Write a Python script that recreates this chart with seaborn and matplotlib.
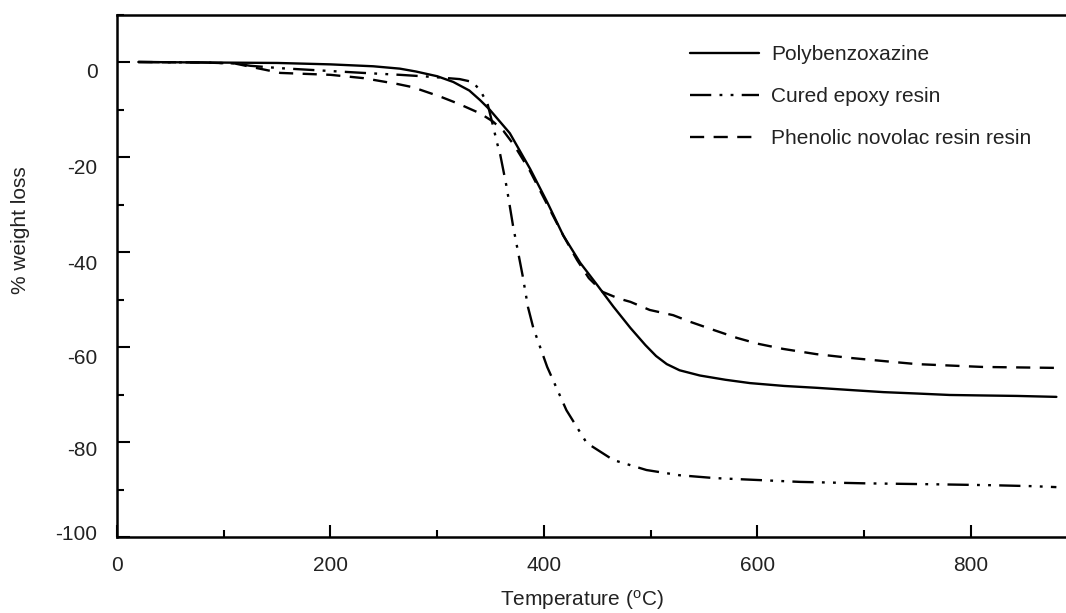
import numpy as np
import pandas as pd
import matplotlib
matplotlib.use("Agg")
import matplotlib.pyplot as plt
import matplotlib.transforms as mtransforms
from matplotlib.ticker import MultipleLocator
import seaborn as sns

# ---- data ----
pbz_T = [20, 80, 150, 200, 240, 265, 280, 300, 315, 330, 340, 349, 368, 387, 403, 418, 434,
         450, 465, 481, 495, 505, 515, 527, 546, 570, 593, 625, 656, 690, 718, 750, 780, 810,
         843, 880]
pbz_w = [0, -0.1, -0.2, -0.5, -0.9, -1.4, -2.0, -3.0, -4.2, -6, -8, -10, -15, -22.5, -29.5,
         -36.5, -42.3, -47, -51.5, -56, -59.6, -61.9, -63.6, -64.9, -66, -66.9, -67.6, -68.2,
         -68.6, -69.1, -69.5, -69.8, -70.1, -70.2, -70.3, -70.5]

epx_T = [20, 80, 110, 125, 153, 200, 231, 265, 293, 321, 333, 340, 347, 352, 356, 359, 365,
         371, 380, 385, 390, 403, 421, 440, 465, 496, 527, 560, 600, 640, 700, 765, 820, 858, 880]
epx_w = [0, -0.1, -0.3, -0.8, -1.3, -1.9, -2.3, -2.7, -3.1, -3.6, -4.2, -5.9, -8.7, -13.2,
         -17, -19.5, -26.3, -34.5, -45, -51.6, -56, -64.2, -73.3, -80.2, -83.8, -85.9, -87,
         -87.6, -88, -88.4, -88.7, -88.9, -89.1, -89.3, -89.5]

phn_T = [20, 80, 110, 125, 153, 200, 231, 262, 277, 303, 320, 340, 352, 362, 372, 387, 403,
         418, 431, 442, 455, 470, 481, 499, 521, 537, 560, 581, 600, 624, 655, 687, 720, 749,
         780, 811, 845, 880]
phn_w = [0, -0.1, -0.3, -1.0, -2.3, -2.7, -3.4, -4.6, -5.3, -7.3, -8.8, -10.8, -12.5, -14.5,
         -17.5, -23, -30, -36.5, -41.7, -45.5, -48.4, -49.8, -50.5, -52.2, -53.3, -54.7, -56.5,
         -58.1, -59.3, -60.4, -61.5, -62.3, -63, -63.6, -63.9, -64.2, -64.3, -64.4]

labels = ["Polybenzoxazine", "Cured epoxy resin", "Phenolic novolac resin resin"]
x_major = [0, 200, 400, 600, 800]
y_major = [0, -20, -40, -60, -80, -100]

# ---- style ----
sns.set_theme(style="white")
plt.rcParams['font.family'] = ['Liberation Sans', 'DejaVu Sans']
plt.rcParams['mathtext.fontset'] = 'custom'
plt.rcParams['mathtext.rm'] = 'Liberation Sans'
plt.rcParams['mathtext.it'] = 'Liberation Sans'
plt.rcParams['axes.unicode_minus'] = False
TXT = '#222222'

fig = plt.figure(figsize=(10.66, 6.13), dpi=100)
ax = fig.add_axes([117 / 1066, 1 - 537 / 613, 1 - 117 / 1066, (537 - 14.5) / 613])

lw = 1.7
styles = ['-', (0, (9, 3.5, 1.2, 3.5, 1.2, 3.5)), (0, (6, 4))]
for T, w, lab, ls in zip([pbz_T, epx_T, phn_T], [pbz_w, epx_w, phn_w], labels, styles):
    df = pd.DataFrame({"T": T, "w": w})
    sns.lineplot(data=df, x="T", y="w", ax=ax, color='black', linewidth=lw,
                 linestyle=ls, label=lab, sort=False, estimator=None)

ax.set_xlim(0, 889)
ax.set_ylim(-100, 10)
ax.set_xticks(x_major)
ax.set_yticks(y_major)
ax.xaxis.set_minor_locator(MultipleLocator(100))
ax.yaxis.set_minor_locator(MultipleLocator(10))
ax.tick_params(axis='both', which='major', direction='in', length=9, width=1.5,
               colors='black', labelcolor=TXT, labelsize=15)
ax.tick_params(axis='both', which='minor', direction='in', length=5, width=1.5,
               colors='black')
ax.tick_params(axis='y', which='major', pad=14)
ax.tick_params(axis='x', which='major', pad=14)
ax.tick_params(axis='both', which='both', left=True, bottom=True, top=False, right=False)

for s in ['left', 'top', 'bottom']:
    ax.spines[s].set_visible(True)
    ax.spines[s].set_color('black')
    ax.spines[s].set_linewidth(1.8)
ax.spines['right'].set_visible(False)

# y tick labels sit slightly off their ticks in the reference
y_offsets_px = [8, 10, 10, 10, 7, -4]
fig.canvas.draw()
for lbl, dy in zip(ax.get_yticklabels(), y_offsets_px):
    off = mtransforms.ScaledTranslation(0, -dy / 100, fig.dpi_scale_trans)
    lbl.set_transform(lbl.get_transform() + off)

ax.set_xlabel(r'Temperature ($^{\mathrm{o}}$C)', fontsize=15, color=TXT)
ax.set_ylabel('% weight loss', fontsize=15, color=TXT)
ax.xaxis.set_label_coords(0.49, -0.098)
ax.yaxis.set_label_coords(-0.092, 0.588)

leg = ax.legend(loc='upper left', bbox_to_anchor=(690 / 1066, 1 - 45 / 613),
                bbox_transform=fig.transFigure, frameon=False, fontsize=15,
                handlelength=3.3, handletextpad=0.6, labelspacing=1.1,
                borderpad=0, borderaxespad=0)
for t in leg.get_texts():
    t.set_color(TXT)

fig.savefig('out.png', dpi=100, facecolor='white')
